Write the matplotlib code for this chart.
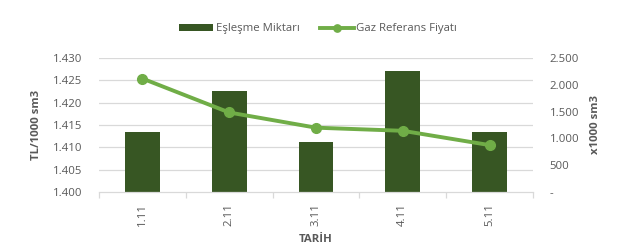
import matplotlib
matplotlib.use("Agg")
import matplotlib.pyplot as plt
from matplotlib.ticker import FuncFormatter
import numpy as np

categories = ["1.11", "2.11", "3.11", "4.11", "5.11"]
eslesme_miktari = [1113, 1884, 927, 2257, 1113]          # x1000 sm3 (right axis)
gaz_referans_fiyati = [1.4254, 1.4178, 1.4144, 1.4137, 1.4105]  # TL/1000 sm3 (left axis)

left_ticks = [1.400, 1.405, 1.410, 1.415, 1.420, 1.425, 1.430]
right_ticks = [0, 500, 1000, 1500, 2000, 2500]

plt.rcParams['font.family'] = ['Open Sans', 'DejaVu Sans']
TXT = '#595959'
BAR = '#375623'
LINE = '#70ad47'
GRID = '#d9d9d9'

fig = plt.figure(figsize=(6.24, 2.45), dpi=100)
ax = fig.add_axes([99/624, 1-192/245, (533-99)/624, (192-58)/245])
ax2 = ax.twinx()

x = np.arange(len(categories))

# bars on secondary axis
ax2.bar(x, eslesme_miktari, width=0.40, color=BAR, zorder=2, label='Eşleşme Miktarı')
ax2.set_ylim(0, 2500)
ax2.set_yticks(right_ticks)
ax2.yaxis.set_major_formatter(FuncFormatter(lambda v, p: '-' if v == 0 else f"{int(v):,}".replace(',', '.')))

# line on primary axis, drawn above bars
ax.set_zorder(ax2.get_zorder() + 1)
ax.patch.set_visible(False)
ax.plot(x, gaz_referans_fiyati, color=LINE, lw=2.8, marker='o', ms=7, zorder=3,
        label='Gaz Referans Fiyatı')
ax.set_ylim(1.400, 1.430)
ax.set_yticks(left_ticks)
ax.yaxis.set_major_formatter(FuncFormatter(lambda v, p: f"{v:.3f}"))
ax.set_xlim(-0.5, len(categories) - 0.5)
ax.set_xticks(x)
ax.set_xticklabels(categories, rotation=90)
ax.set_xticks(np.arange(-0.5, len(categories), 1.0), minor=True)

# grid
for t in left_ticks[1:]:
    ax2.axhline((t - 1.400) / 0.030 * 2500, color=GRID, lw=0.9, zorder=0)

for a in (ax, ax2):
    for s in a.spines.values():
        s.set_visible(False)
ax.spines['bottom'].set_visible(True)
ax.spines['bottom'].set_color(GRID)
ax.spines['bottom'].set_linewidth(0.9)

ax.tick_params(axis='y', length=0, labelsize=8.2, labelcolor=TXT, pad=12)
ax2.tick_params(axis='y', length=0, labelsize=8.2, labelcolor=TXT, pad=12)
ax.tick_params(axis='x', which='major', length=0, labelsize=8.2, labelcolor=TXT, pad=8)
ax.tick_params(axis='x', which='minor', length=4, color=GRID, width=0.9)

ax.set_ylabel('TL/1000 sm3', fontsize=8.2, fontweight='bold', color=TXT, labelpad=8)
ax2.set_ylabel('x1000 sm3', fontsize=8.2, fontweight='bold', color=TXT, labelpad=8)
ax.set_xlabel('TARİH', fontsize=8.2, fontweight='bold', color=TXT, labelpad=6)

h1, l1 = ax2.get_legend_handles_labels()
h2, l2 = ax.get_legend_handles_labels()
fig.legend(h1 + h2, l1 + l2, loc='center', bbox_to_anchor=(318/624, 1-29/245), ncol=2,
           frameon=False, fontsize=8.2, labelcolor=TXT, handlelength=3.0,
           handletextpad=0.2, columnspacing=1.8, markerscale=0.75)

fig.savefig('out.png', dpi=100)
